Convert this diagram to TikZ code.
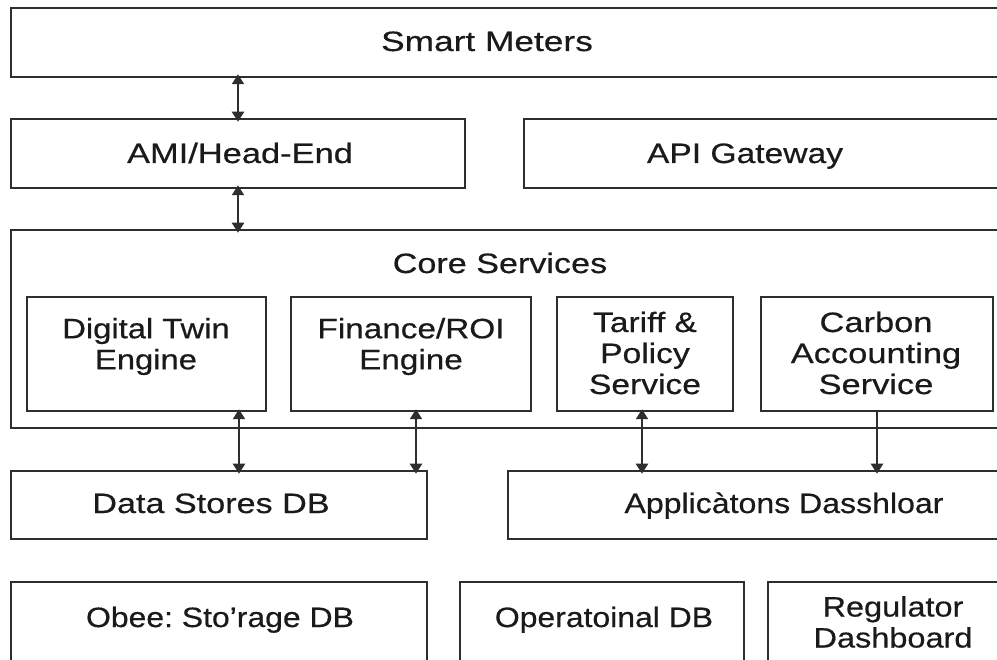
\documentclass[tikz,border=0pt]{standalone}
\usepackage{fontspec}
\setmainfont{Liberation Sans}[FakeBold=0.5]
\usetikzlibrary{arrows.meta,calc}
\definecolor{ln}{HTML}{2E2E2E}
\definecolor{tx}{HTML}{1A1A1A}
\begin{document}
\begin{tikzpicture}[x=1pt,y=-1pt,
  box/.style={draw=ln,line width=2.5pt,rectangle,inner sep=0pt,fill=white},
  lbl/.style={text=tx,font=\fontsize{28}{31}\selectfont\addfontfeature{FakeStretch=#1}\frenchspacing,align=center,inner sep=0pt},
  lbl/.default=1.2,
  arr/.style={draw=ln,line width=2.2pt,-{Triangle[length=10pt,width=12pt]}},
  darr/.style={draw=ln,line width=2.2pt,{Triangle[length=10pt,width=12pt]}-{Triangle[length=10pt,width=12pt]}}]
\useasboundingbox[fill=white] (0,0) rectangle (997,660);
\begin{scope}
\clip (0,0) rectangle (997,660);
\node[box,minimum width=994pt,minimum height=69pt] (sm) at (508,42.5) {};
\node[box,minimum width=454pt,minimum height=69pt] (ami) at (238,153.5) {};
\node[box,minimum width=481pt,minimum height=69pt] (api) at (764.5,153.5) {};
\node[box,minimum width=994pt,minimum height=198pt] (core) at (508,329) {};
\node[box,minimum width=239pt,minimum height=114pt] (dt) at (146.5,354) {};
\node[box,minimum width=240pt,minimum height=114pt] (fin) at (411,354) {};
\node[box,minimum width=176pt,minimum height=114pt] (tar) at (645,354) {};
\node[box,minimum width=232pt,minimum height=114pt] (carb) at (877,354) {};
\node[box,minimum width=416pt,minimum height=68pt] (ds) at (219,505) {};
\node[box,minimum width=497pt,minimum height=68pt] (app) at (756.5,505) {};
\node[box,minimum width=416pt,minimum height=100pt] (obee) at (219,632) {};
\node[box,minimum width=284pt,minimum height=100pt] (op) at (602,632) {};
\node[box,minimum width=240pt,minimum height=100pt] (reg) at (888,632) {};
\end{scope}
% labels (single-line ones placed by baseline)
\node[lbl=1.26,anchor=base] (smt) at (487,51) {Smart Meters};
\node[lbl=1.23,anchor=base] (amit) at (240,163) {AMI/Head-End};
\node[lbl=1.2,anchor=base] (apit) at (745,163) {API Gateway};
\node[lbl=1.22,anchor=base] (coret) at (500,273) {Core Services};
\node[lbl=1.17] (dtt) at (146,346.5) {Digital Twin\\Engine};
\node[lbl=1.19] (fint) at (411,346.5) {Finance/ROI\\Engine};
\node[lbl=1.2] (tart) at (645,353) {Tariff \&\\Policy\\Service};
\node[lbl=1.23] (carbt) at (876,353) {Carbon\\Accounting\\Service};
\node[lbl=1.22,anchor=base] (dst) at (211,513) {Data Stores DB};
\node[lbl=1.145,anchor=base] (appt) at (784,513) {Applicàtons Dasshloar};
\node[lbl=1.14,anchor=base] (obeet) at (220,627) {Obee: Sto’rage DB};
\node[lbl=1.14,anchor=base] (opt) at (604,627) {Operatoinal DB};
\node[lbl=1.16] (regt) at (893,622) {Regulator\\Dashboard};
% connectors
\draw[darr] ([yshift=4pt]sm.south -| 238,0) -- ([yshift=-4pt]ami.north -| 238,0);
\draw[darr] ([yshift=4pt]ami.south -| 238,0) -- ([yshift=-4pt]core.north -| 238,0);
\draw[darr] ([yshift=3pt]dt.south -| 239,0) -- ([yshift=-4pt]ds.north -| 239,0);
\draw[darr] ([yshift=3pt]fin.south -| 416,0) -- ([yshift=-4pt]ds.north -| 416,0);
\draw[darr] ([yshift=3pt]tar.south -| 642,0) -- ([yshift=-4pt]app.north -| 642,0);
\draw[arr] (carb.south) -- ([yshift=-4pt]app.north -| carb.south);
\end{tikzpicture}
\end{document}
